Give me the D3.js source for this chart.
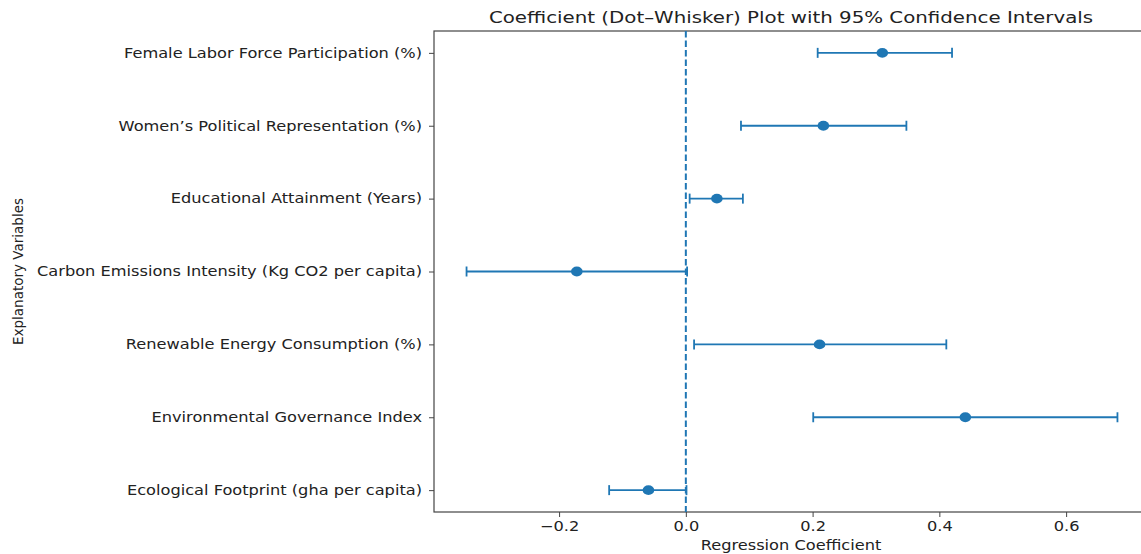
<!DOCTYPE html>
<html>
<head>
<meta charset="utf-8">
<script src="https://cdn.jsdelivr.net/npm/d3@7"></script>
<style>
  body { margin: 0; background: #fff; }
  text { font-family: "DejaVu Sans", sans-serif; fill: #222; }
</style>
</head>
<body>
<svg id="chart" width="1141" height="554"></svg>
<script>
// variables, top to bottom as drawn
const variables = [
  "Female Labor Force Participation (%)",
  "Women\u2019s Political Representation (%)",
  "Educational Attainment (Years)",
  "Carbon Emissions Intensity (Kg CO2 per capita)",
  "Renewable Energy Consumption (%)",
  "Environmental Governance Index",
  "Ecological Footprint (gha per capita)"
]
const coefs   = [0.31, 0.217, 0.049, -0.172, 0.211, 0.441, -0.059]
const ciLow   = [0.208, 0.087, 0.006, -0.346, 0.013, 0.201, -0.121]
const ciHigh  = [0.420, 0.348, 0.090, 0.002, 0.411, 0.681, 0.001]
const xTicks  = [-0.2, 0.0, 0.2, 0.4, 0.6]

const blue = "#1f77b4"
const svg = d3.select("#chart")
const m = {left: 434, right: 1150, top: 31, bottom: 512}

// the picture is a bit wider than it is tall, so horizontal text gets stretched
const stretch = sel => sel.each(function () {
  const w = this.getComputedTextLength()
  d3.select(this).attr("textLength", w * 1.2).attr("lengthAdjust", "spacingAndGlyphs")
})

// matplotlib-ish 5% margins
const lo = d3.min(ciLow), hi = d3.max(ciHigh), pad = (hi - lo) * 0.05
const x = d3.scaleLinear().domain([lo - pad, hi + pad]).range([m.left, m.right])
// index 0 sits at the top
const y = d3.scaleLinear().domain([-0.3, variables.length - 1 + 0.3]).range([m.top, m.bottom])

const fmt = d => d < 0 ? "\u2212" + Math.abs(d).toFixed(1) : d.toFixed(1)

// x axis
const xAxis = svg.append("g")
  .attr("transform", `translate(0,${m.bottom})`)
  .call(d3.axisBottom(x).tickValues(xTicks).tickFormat(fmt).tickSize(5).tickPadding(4))
xAxis.select(".domain").remove()
xAxis.selectAll("line").attr("stroke", "#444")
xAxis.selectAll("text").style("font-size", "13.5px").attr("fill", "#222").call(stretch)

// y axis
const yAxis = svg.append("g")
  .attr("transform", `translate(${m.left},0)`)
  .call(d3.axisLeft(y).tickValues(d3.range(variables.length)).tickFormat(i => variables[i]).tickSize(5).tickPadding(7))
yAxis.select(".domain").remove()
yAxis.selectAll("line").attr("stroke", "#444")
yAxis.selectAll("text").style("font-size", "13.5px").attr("fill", "#222").call(stretch)

// spines (right one falls just outside the window)
svg.append("rect")
  .attr("x", m.left).attr("y", m.top)
  .attr("width", m.right - m.left).attr("height", m.bottom - m.top)
  .attr("fill", "none").attr("stroke", "#444").attr("stroke-width", 1.2)

// reference line at zero
svg.append("line")
  .attr("x1", x(0)).attr("x2", x(0))
  .attr("y1", m.top).attr("y2", m.bottom)
  .attr("stroke", blue).attr("stroke-width", 2)
  .attr("stroke-dasharray", "6.5,3")

const rows = variables.map((v, i) => ({v, i, c: coefs[i], l: ciLow[i], h: ciHigh[i]}))
const g = svg.append("g")

g.selectAll(".whisker").data(rows).join("line")
  .attr("x1", d => x(d.l)).attr("x2", d => x(d.h))
  .attr("y1", d => y(d.i)).attr("y2", d => y(d.i))
  .attr("stroke", blue).attr("stroke-width", 1.8)

g.selectAll(".capL").data(rows).join("line")
  .attr("x1", d => x(d.l)).attr("x2", d => x(d.l))
  .attr("y1", d => y(d.i) - 5).attr("y2", d => y(d.i) + 5)
  .attr("stroke", blue).attr("stroke-width", 1.8)

g.selectAll(".capH").data(rows).join("line")
  .attr("x1", d => x(d.h)).attr("x2", d => x(d.h))
  .attr("y1", d => y(d.i) - 5).attr("y2", d => y(d.i) + 5)
  .attr("stroke", blue).attr("stroke-width", 1.8)

g.selectAll("ellipse").data(rows).join("ellipse")
  .attr("cx", d => x(d.c)).attr("cy", d => y(d.i))
  .attr("rx", 5.8).attr("ry", 4.9)
  .attr("fill", blue)

// titles
svg.append("text")
  .attr("x", (m.left + m.right) / 2 - 1).attr("y", 23)
  .attr("text-anchor", "middle").style("font-size", "16.5px")
  .text("Coefficient (Dot\u2013Whisker) Plot with 95% Confidence Intervals")
  .call(stretch)

svg.append("text")
  .attr("x", (m.left + m.right) / 2 - 1).attr("y", 550)
  .attr("text-anchor", "middle").style("font-size", "13.5px")
  .text("Regression Coefficient")
  .call(stretch)

svg.append("text")
  .attr("transform", `translate(23,${(m.top + m.bottom) / 2}) rotate(-90)`)
  .attr("text-anchor", "middle").style("font-size", "13.5px")
  .text("Explanatory Variables")
</script>
</body>
</html>
